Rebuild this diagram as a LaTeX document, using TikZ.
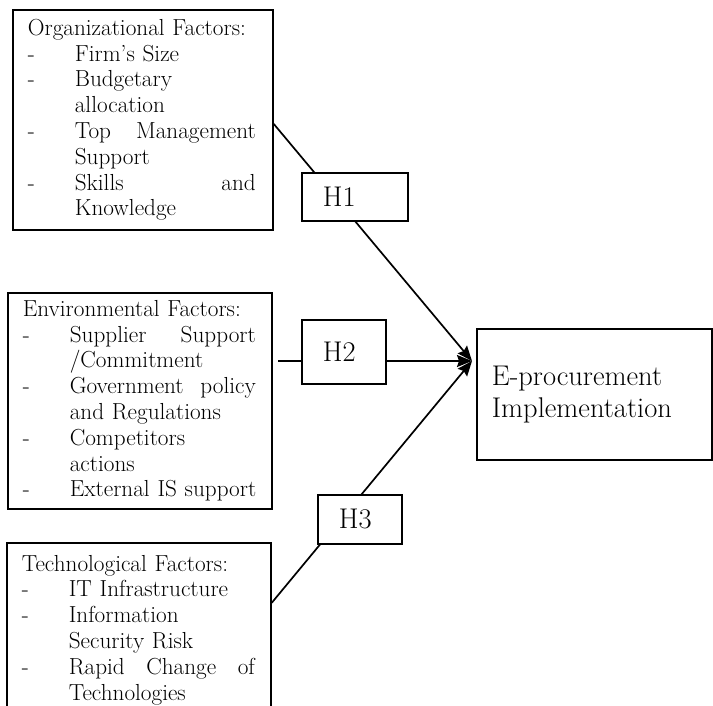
\documentclass[tikz,border=0pt]{standalone}
\usetikzlibrary{arrows.meta}

\newcommand{\fdash}{\makebox[47pt][l]{-}}
\newcommand{\fskip}{\makebox[47pt]{}}
\newcommand{\fjust}[2]{\makebox[#1][l]{#2}}

\begin{document}
\begin{tikzpicture}[
  x=1pt, y=-1pt,
  >={Stealth[length=15pt,width=12pt,inset=2pt]},
  line width=1.7pt,
  factor/.style={draw,anchor=north west,inner xsep=15pt,align=left,font=\fontsize{23.2}{25.8}\selectfont},
  hyp/.style={draw,fill=white,anchor=north west,inner xsep=21pt,align=left,font=\fontsize{28.5}{30}\selectfont},
  goal/.style={draw,anchor=north west,inner xsep=15pt,align=left,font=\fontsize{28.5}{32}\selectfont}
  ]

  \useasboundingbox (0,0) rectangle (713,705);


  \node [factor,text width=230pt,minimum height=220pt] (org) at (12,9) {Organizational Factors:\\
    \fdash Firm’s Size\\
    \fdash Budgetary\\
    \fskip allocation\\
    \fdash\fjust{181pt}{Top\hfill Management}\\
    \fskip Support\\
    \fdash\fjust{181pt}{Skills\hfill and}\\
    \fskip Knowledge};

  \node [factor,text width=234pt,minimum height=216pt] (env) at (7,292) {Environmental Factors:\\
    \fdash\fjust{186pt}{Supplier\hfill Support}\\
    \fskip /Commitment\\
    \fdash\fjust{186pt}{Government\hfill policy}\\
    \fskip and Regulations\\
    \fdash Competitors\\
    \fskip actions\\
    \fdash External IS support};

  \node [factor,text width=234pt,minimum height=174pt] (tech) at (6,542) {Technological Factors:\\
    \fdash IT Infrastructure\\
    \fdash Information\\
    \fskip Security Risk\\
    \fdash\fjust{186pt}{Rapid\hfill Change\hfill of}\\
    \fskip Technologies};

  \node [goal,text width=205pt,minimum height=131pt] (eproc) at (476,328) {E-procurement\\Implementation};


  \coordinate (tip) at (472,361);
  \coordinate (h2in) at (278,361);

  \draw[->] ([yshift=-4pt]org.east) -- (tip);
  \draw[->] (h2in) -- (tip);
  \draw[->] ([yshift=27pt]tech.east) -- (tip);

  \node [hyp,text width=64pt,minimum height=48pt] (h1) at (301,172) {H1};
  \node [hyp,text width=42pt,minimum height=64pt] (h2) at (301,319) {H2};
  \node [hyp,text width=42pt,minimum height=49pt] (h3) at (317,494) {H3};


\end{tikzpicture}
\end{document}
